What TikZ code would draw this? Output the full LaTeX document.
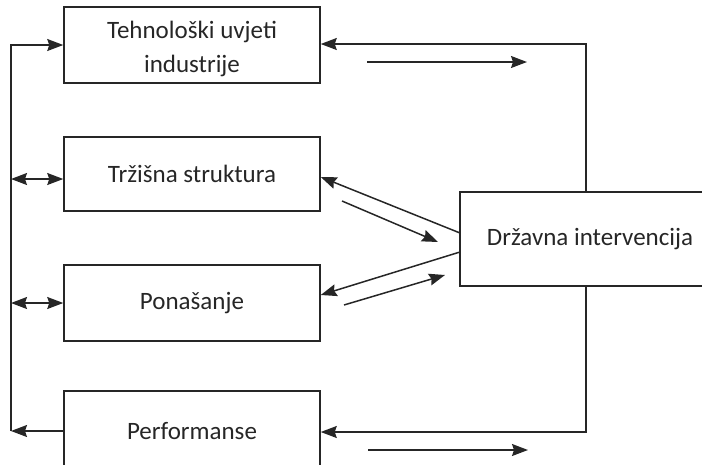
\documentclass[tikz,border=0pt]{standalone}
\usepackage{fontspec}
\setmainfont{Carlito}
\usetikzlibrary{arrows.meta}
\begin{document}
\begin{tikzpicture}[x=1pt,y=-1pt,
  txt/.style={text=black!85, align=center, font=\fontsize{25}{34}\selectfont},
  box/.style={draw=black!85, txt, line width=1.5pt, minimum width=256pt, inner sep=0pt},
  conn/.style={line width=1.5pt, draw=black!85},
  tip/.tip={Stealth[length=16pt,width=12pt,inset=2pt]},
  arr/.style={conn, -tip},
  darr/.style={conn, tip-tip}]
\useasboundingbox (0,0) rectangle (702,464);
\begin{scope}
\clip (0,0) rectangle (702,464);
\node[box, minimum height=76pt, label={[txt, yshift=-4pt]center:Tehnološki uvjeti\\industrije}] (b1) at (192,45) {};
\node[box, minimum height=74pt] (b2) at (192,174) {Tržišna struktura};
\node[box, minimum height=76pt] (b3) at (192,303) {Ponašanje};
\node[box, minimum height=80pt] (b4) at (192,431) {Performanse};
\node[box, minimum width=260pt, minimum height=94pt] (d) at (590,239) {Državna intervencija};

\coordinate (l1) at (11,45);
\coordinate (l2) at (11,179);
\coordinate (l3) at (11,303);
\coordinate (l4) at (11,431);
\draw[arr] (b4.west) -- (l4);
\draw[arr] (l4) -- (l1) -- (b1.west);
\draw[darr] (l2) -- (l2 -| b2.west);
\draw[darr] (l3) -- (l3 -| b3.west);

\coordinate (r1) at (586,44);
\coordinate (r4) at (586,432);
\draw[arr] (d.north -| r1) -- (r1) -- (r1 -| b1.east);
\draw[arr] (d.south -| r4) -- (r4) -- (r4 -| b4.east);

\coordinate (t1) at (367,62);
\coordinate (t2) at (527,62);
\draw[arr] (t1) -- (t2);
\coordinate (u1) at (368,450);
\coordinate (u2) at (528,450);
\draw[arr] (u1) -- (u2);

\coordinate (da) at (460,233);
\coordinate (db) at (460,252);
\draw[arr] (da) -- (b2.east |- 0,177);
\draw[arr] (db) -- (b3.east |- 0,295);
\coordinate (p1) at (342,201);
\coordinate (p2) at (438,242);
\draw[arr] (p1) -- (p2);
\coordinate (q1) at (344,305);
\coordinate (q2) at (445,275);
\draw[arr] (q1) -- (q2);
\end{scope}
\end{tikzpicture}
\end{document}
